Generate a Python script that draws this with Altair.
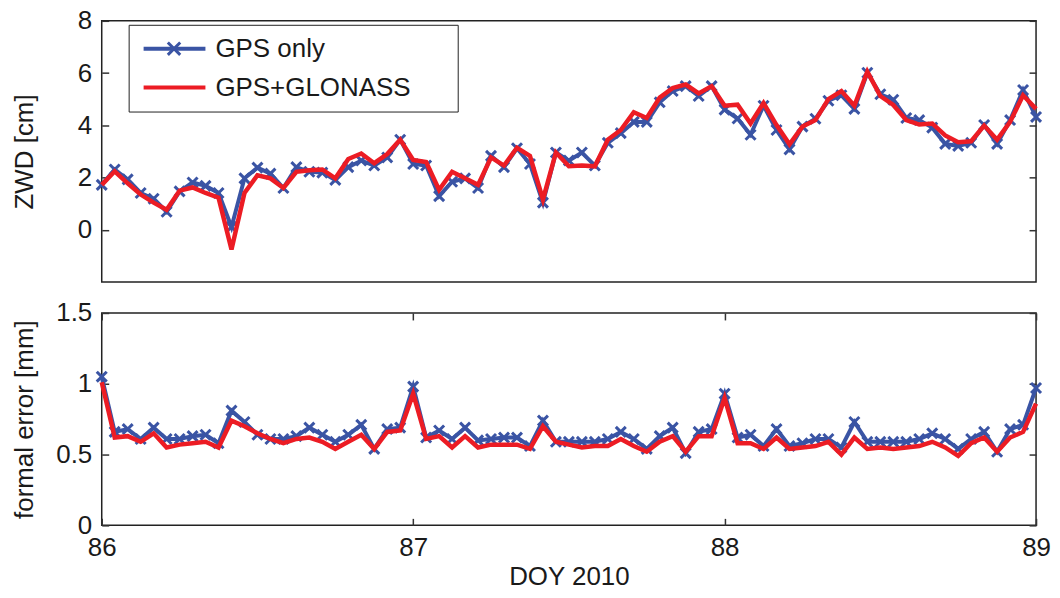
import altair as alt
import pandas as pd

# ---------------- data ----------------
HOURS = list(range(73))  # hourly epochs from DOY 86.0 to 89.0
SERIES = ["GPS only", "GPS+GLONASS"]
X_TICKS = [86, 87, 88, 89]
ZWD_TICKS = [0, 2, 4, 6, 8]
ERR_TICKS = [0, 0.5, 1, 1.5]

ZWD_GPS = [1.72, 2.31, 1.93, 1.41, 1.19, 0.69, 1.47, 1.81, 1.68, 1.41,
           0.11, 1.97, 2.38, 2.15, 1.60, 2.40, 2.22, 2.19, 1.91, 2.40,
           2.65, 2.46, 2.77, 3.45, 2.52, 2.46, 1.29, 1.84, 1.97, 1.60,
           2.83, 2.40, 3.12, 2.52, 1.04, 2.96, 2.65, 2.96, 2.46, 3.33,
           3.70, 4.13, 4.13, 4.88, 5.31, 5.50, 5.12, 5.50, 4.60, 4.26,
           3.64, 4.75, 3.82, 3.08, 3.95, 4.25, 4.94, 5.15, 4.63, 6.01,
           5.19, 4.98, 4.28, 4.20, 3.91, 3.29, 3.21, 3.33, 4.01, 3.29,
           4.20, 5.35, 4.32]
ZWD_GLO = [1.72, 2.24, 1.78, 1.35, 1.04, 0.77, 1.50, 1.62, 1.41, 1.23,
           -0.75, 1.41, 2.09, 1.97, 1.60, 2.22, 2.28, 2.31, 1.97, 2.71,
           2.92, 2.55, 2.90, 3.45, 2.67, 2.59, 1.53, 2.22, 1.97, 1.72,
           2.77, 2.46, 3.14, 2.83, 1.16, 2.96, 2.43, 2.46, 2.43, 3.45,
           3.82, 4.50, 4.28, 5.06, 5.43, 5.56, 5.22, 5.50, 4.75, 4.79,
           4.07, 4.85, 4.01, 3.27, 3.95, 4.20, 5.00, 5.31, 4.75, 6.05,
           5.12, 4.78, 4.20, 4.03, 4.07, 3.61, 3.35, 3.39, 3.99, 3.45,
           4.13, 5.15, 4.63]
ERR_GPS = [1.05, 0.66, 0.68, 0.61, 0.69, 0.61, 0.61, 0.63, 0.64, 0.58,
           0.81, 0.73, 0.64, 0.61, 0.61, 0.63, 0.69, 0.64, 0.59, 0.64,
           0.71, 0.54, 0.68, 0.69, 0.98, 0.62, 0.67, 0.61, 0.69, 0.60,
           0.61, 0.62, 0.62, 0.56, 0.74, 0.59, 0.59, 0.59, 0.59, 0.61,
           0.66, 0.61, 0.54, 0.63, 0.69, 0.51, 0.66, 0.68, 0.93, 0.62,
           0.64, 0.56, 0.68, 0.56, 0.58, 0.61, 0.61, 0.55, 0.73, 0.59,
           0.59, 0.59, 0.59, 0.61, 0.65, 0.61, 0.54, 0.61, 0.66, 0.52,
           0.68, 0.71, 0.97]
ERR_GLO = [1.01, 0.62, 0.63, 0.59, 0.65, 0.55, 0.57, 0.58, 0.59, 0.55,
           0.74, 0.70, 0.65, 0.61, 0.58, 0.61, 0.62, 0.59, 0.54, 0.59,
           0.64, 0.54, 0.66, 0.67, 0.93, 0.61, 0.63, 0.55, 0.63, 0.55,
           0.57, 0.57, 0.57, 0.54, 0.70, 0.59, 0.57, 0.55, 0.56, 0.56,
           0.61, 0.56, 0.52, 0.59, 0.63, 0.52, 0.63, 0.63, 0.90, 0.58,
           0.58, 0.54, 0.62, 0.54, 0.55, 0.56, 0.59, 0.50, 0.62, 0.54,
           0.55, 0.54, 0.55, 0.56, 0.59, 0.55, 0.49, 0.58, 0.62, 0.52,
           0.62, 0.66, 0.86]

doy = [86 + h / 24 for h in HOURS]
df_gps = pd.DataFrame({"doy": doy, "zwd": ZWD_GPS, "err": ERR_GPS, "series": SERIES[0]})
df_glo = pd.DataFrame({"doy": doy, "zwd": ZWD_GLO, "err": ERR_GLO, "series": SERIES[1]})

# ---------------- style ----------------
BLUE = "#3A54A4"
RED = "#EC1C24"
INK = "#1a1a1a"
FONT = "Liberation Sans"
XPATH = "M-0.2,-0.2L0.2,0.2M-0.2,0.2L0.2,-0.2"
IN = {"expr": "-7"}          # inward ticks
W = 937
LEG_X, LEG_Y = 27, 4
LEG_SIZE = 3844
PAD_CHARS = "\u2800" * 2     # blank filler to widen the legend box on the right

x_scale = alt.Scale(domain=[86, 89], nice=False, zero=False)

# ---------------- top panel ----------------
y_top_scale = alt.Scale(domain=[-2, 8], nice=False, zero=False)
y_top = alt.Y("zwd:Q", scale=y_top_scale,
              axis=alt.Axis(values=ZWD_TICKS, title="ZWD [cm]", tickSize=IN,
                            labelPadding=17, minExtent=50, maxExtent=50,
                            titlePadding=14, domain=False, grid=False))
x_top = alt.X("doy:Q", scale=x_scale, axis=None)

color_top = alt.Color(
    "series:N",
    scale=alt.Scale(domain=SERIES, range=[BLUE, RED]),
    legend=alt.Legend(orient="none", legendX=LEG_X, legendY=LEG_Y, title=None,
                      symbolType="stroke", symbolSize=LEG_SIZE, symbolStrokeWidth=4,
                      symbolOffset=4, clipHeight=30, rowPadding=9, padding=9,
                      labelOffset=8, labelFontSize=26, labelFont=FONT, labelColor=INK,
                      labelLimit=400, strokeColor="#222",
                      labelExpr="datum.label + '" + PAD_CHARS + "'"),
)
shape_top = alt.Shape(
    "series:N",
    scale=alt.Scale(domain=[SERIES[0]], range=[XPATH]),
    legend=alt.Legend(orient="none", legendX=LEG_X, legendY=LEG_Y, title=None,
                      symbolSize=LEG_SIZE, symbolStrokeWidth=3, symbolStrokeColor=BLUE,
                      symbolFillColor="transparent", symbolOffset=4, clipHeight=30,
                      padding=9, labelOffset=8, labelFontSize=26, labelExpr="''"),
)

blue_line_top = alt.Chart(df_gps).mark_line(strokeWidth=4).encode(x=x_top, y=y_top, color=color_top)
blue_pts_top = alt.Chart(df_gps).mark_point(filled=False, size=2500, strokeWidth=3,
                                            color=BLUE, opacity=1).encode(x=x_top, y=y_top, shape=shape_top)
red_line_top = alt.Chart(df_glo).mark_line(strokeWidth=4.5).encode(x=x_top, y=y_top, color=color_top)
inner_top = alt.layer(blue_line_top, blue_pts_top, red_line_top)

ghost_top = alt.Chart(df_gps).mark_line(opacity=0).encode(
    x=x_top,
    y=alt.Y("zwd:Q", scale=y_top_scale,
            axis=alt.Axis(orient="right", values=ZWD_TICKS, labels=False, title=None,
                          tickSize=IN, domain=False, grid=False)),
)
top = alt.layer(inner_top, ghost_top).resolve_scale(y="independent").properties(width=W, height=262)

# ---------------- bottom panel ----------------
y_bot_scale = alt.Scale(domain=[0, 1.5], nice=False, zero=False)
y_bot = alt.Y("err:Q", scale=y_bot_scale,
              axis=alt.Axis(values=ERR_TICKS, format="~g", title="formal error [mm]",
                            tickSize=IN, labelPadding=17, minExtent=50, maxExtent=50,
                            titlePadding=14, domain=False, grid=False))
x_bot = alt.X("doy:Q", scale=x_scale,
              axis=alt.Axis(values=X_TICKS, format="d", title="DOY 2010", tickSize=IN,
                            labelPadding=16, titlePadding=3, labelFlush=False,
                            domain=False, grid=False))

blue_line_bot = alt.Chart(df_gps).mark_line(strokeWidth=4, color=BLUE).encode(x=x_bot, y=y_bot)
blue_pts_bot = alt.Chart(df_gps).mark_point(shape=XPATH, filled=False, size=2500, strokeWidth=3,
                                            color=BLUE, opacity=1).encode(x=x_bot, y=y_bot)
red_line_bot = alt.Chart(df_glo).mark_line(strokeWidth=4.5, color=RED).encode(x=x_bot, y=y_bot)
inner_bot = alt.layer(blue_line_bot, blue_pts_bot, red_line_bot)

ghost_bot = alt.Chart(df_gps).mark_line(opacity=0).encode(
    x=alt.X("doy:Q", scale=x_scale,
            axis=alt.Axis(orient="top", values=X_TICKS, labels=False, title=None,
                          tickSize=IN, domain=False, grid=False)),
    y=alt.Y("err:Q", scale=y_bot_scale,
            axis=alt.Axis(orient="right", values=ERR_TICKS, labels=False, title=None,
                          tickSize=IN, domain=False, grid=False)),
)
bottom = alt.layer(inner_bot, ghost_bot).resolve_scale(x="independent", y="independent").properties(
    width=W, height=213)

chart = (
    alt.vconcat(top, bottom, spacing=16)
    .properties(padding={"left": 3, "top": -2, "right": 0, "bottom": 0}, background="white")
    .configure_view(stroke="#222", strokeWidth=1.5)
    .configure_axis(labelFont=FONT, titleFont=FONT, labelFontSize=26, titleFontSize=26,
                    titleFontWeight="normal", labelColor=INK, titleColor=INK,
                    tickColor="#333", tickWidth=1.5, grid=False)
)

chart.save("out.html", embed_options={"renderer": "svg", "actions": False})
